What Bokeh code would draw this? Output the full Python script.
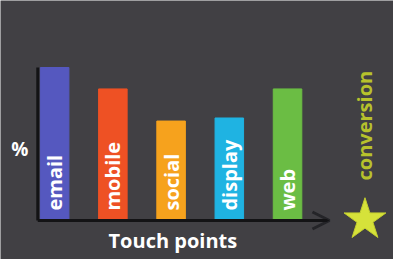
from bokeh.plotting import figure
from bokeh.models import Range1d, ColumnDataSource, Arrow, OpenHead
from bokeh.core.properties import value
from bokeh.embed import file_html
from bokeh.resources import INLINE

# data
categories = ["email", "mobile", "social", "display", "web"]
values = [100, 86, 65, 67, 86]
colors = ["#5558bf", "#ee5124", "#f6a21d", "#1fb3e2", "#6bbd44"]
y_label = "%"
x_label = "Touch points"
goal_label = "conversion"

W, H = 393, 259
BG = "#414044"
p = figure(width=W, height=H, output_backend="svg", toolbar_location=None,
           x_range=Range1d(-0.93, 5.82), y_range=Range1d(-25.5, 143.8),
           min_border=0, background_fill_color=BG, border_fill_color=BG,
           outline_line_color=None)
p.axis.visible = False
p.grid.visible = False

xs = list(range(len(categories)))
src = ColumnDataSource(dict(x=xs, top=values, color=colors, name=categories,
                            ty=[6.5] * len(xs)))
p.vbar(x="x", top="top", bottom=0, width=0.49, color="color", source=src)
p.text(x="x", y="ty", text="name", angle=1.5708, source=src,
       text_color="white", text_font=value("Open Sans"), text_font_style="bold",
       text_font_size="20px", text_baseline="middle", text_align="left")

# axes
p.segment(x0=[-0.29], y0=[0], x1=[-0.29], y1=[values[0]], line_color="#131315", line_width=3)
p.add_layout(Arrow(end=OpenHead(size=17, line_color="#242428", line_width=3),
                   x_start=-0.29, y_start=0, x_end=4.72, y_end=0,
                   line_color="#131315", line_width=3))

# star + conversion
p.scatter(x=[5.33], y=[0.5], marker="star", size=44, fill_color="#d6e23a",
          line_color="#c3cf2e", line_width=1)
p.text(x=[5.33], y=[62], text=[goal_label], angle=1.5708, text_color="#b7c22c",
       text_font=value("Open Sans"), text_font_style="bold", text_font_size="20px",
       text_align="center", text_baseline="middle")

p.text(x=[-0.6], y=[47], text=[y_label], text_color="white",
       text_font=value("Open Sans"), text_font_style="bold", text_font_size="19px",
       text_align="center", text_baseline="middle")
p.text(x=[2.03], y=[-13], text=[x_label], text_color="white",
       text_font=value("Open Sans"), text_font_style="bold", text_font_size="20px",
       text_align="center", text_baseline="middle")

open("out.html", "w").write(file_html(p, INLINE))
